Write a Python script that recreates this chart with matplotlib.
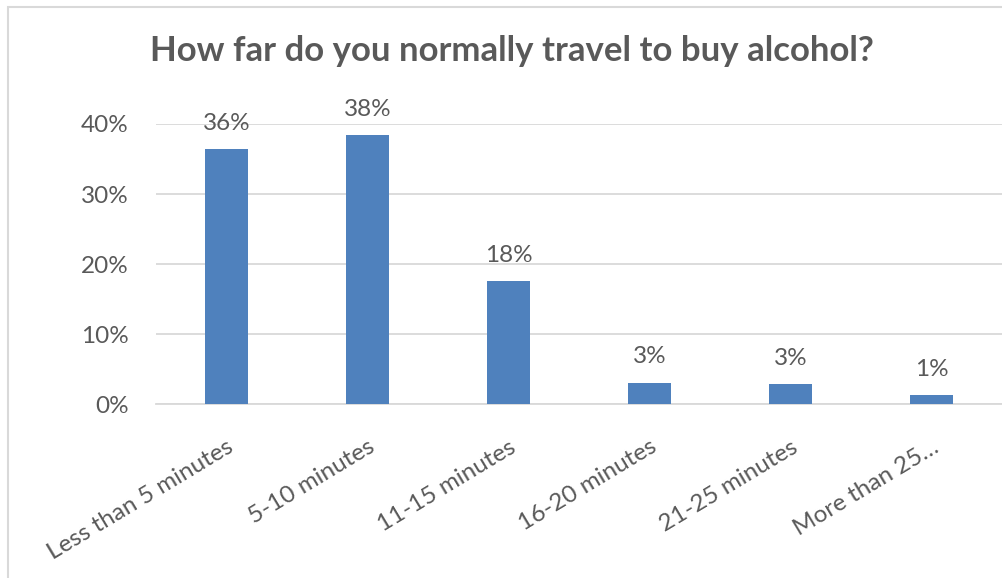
import numpy as np
import matplotlib
matplotlib.use('Agg')
from matplotlib import pyplot as plt
from matplotlib.patches import Rectangle

plt.rcParams['font.family'] = ['Lato', 'DejaVu Sans']

categories = ['Less than 5 minutes', '5-10 minutes', '11-15 minutes',
              '16-20 minutes', '21-25 minutes', 'More than 25…']
shares = [0.364, 0.384, 0.176, 0.031, 0.029, 0.013]
yticks = [0.0, 0.1, 0.2, 0.3, 0.4]
title = 'How far do you normally travel to buy alcohol?'

text_col = '#595959'
grid_col = '#D9D9D9'
bar_col = '#4F81BD'

fig = plt.figure(figsize=(10.03, 5.78), dpi=100)
ax = fig.add_axes([156 / 1003, 1 - 404.3 / 578, 846 / 1003, 280.3 / 578])

x = np.arange(len(categories))
ax.bar(x, shares, width=0.31, color=bar_col, zorder=3)
ax.set_xlim(-0.5, len(categories) - 0.5)
ax.set_ylim(0, 0.4)

for xi, v in zip(x, shares):
    ax.annotate('{:.0f}%'.format(v * 100), (xi, v), xytext=(0, 11),
                textcoords='offset points', ha='center', va='bottom',
                fontsize=17.5, color=text_col)

ax.set_yticks(yticks)
ax.set_yticklabels(['{:.0f}%'.format(t * 100) for t in yticks],
                   fontsize=17.5, color=text_col)
ax.set_xticks(x)
ax.set_xticklabels(categories, rotation=31, ha='right', va='top',
                   rotation_mode='anchor', fontsize=17.5, color=text_col)

ax.tick_params(axis='both', length=0)
ax.tick_params(axis='y', pad=19.5)
ax.tick_params(axis='x', pad=23)
ax.yaxis.grid(True, color=grid_col, linewidth=1.3, zorder=0)
for s in ['top', 'right', 'left']:
    ax.spines[s].set_visible(False)
ax.spines['bottom'].set_color(grid_col)
ax.spines['bottom'].set_linewidth(1.3)

fig.text(512 / 1003, 1 - 51 / 578, title, ha='center', va='center',
         fontsize=25, fontweight='bold', color=text_col)

# outer chart border, cropped at right and bottom
fig.patches.append(Rectangle((8 / 1003, -0.05), 1.1, 1 - 7 / 578 + 0.05,
                             transform=fig.transFigure, fill=False,
                             edgecolor=grid_col, linewidth=1.5))

fig.savefig('out.png', dpi=100)
